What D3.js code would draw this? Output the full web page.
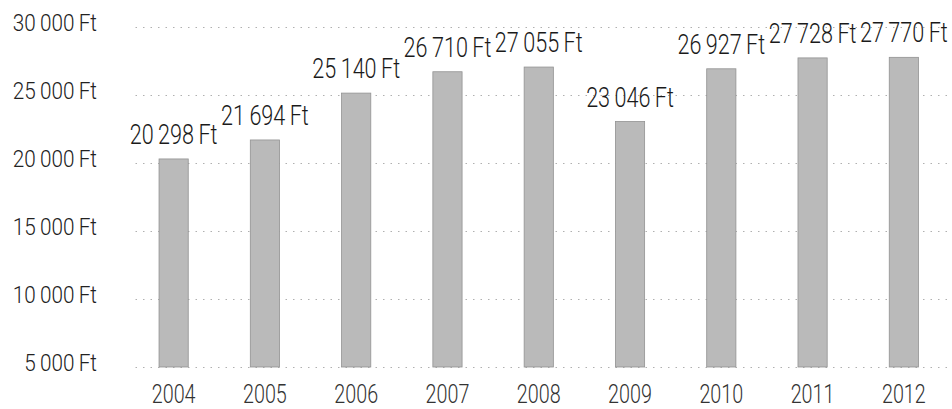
<!DOCTYPE html>
<html>
<head>
<meta charset="utf-8">
<script src="https://cdn.jsdelivr.net/npm/d3@7"></script>
<style>
  html, body { margin: 0; padding: 0; background: #fff; }
  svg { display: block; }
  text { font-family: Roboto, "Liberation Sans", Arial, sans-serif; font-weight: 300; }
</style>
</head>
<body>
<svg id="chart" width="952" height="409"></svg>
<script>
// Yearly amounts in forints
const years = ["2004", "2005", "2006", "2007", "2008", "2009", "2010", "2011", "2012"];
const amounts = [20298, 21694, 25140, 26710, 27055, 23046, 26927, 27728, 27770];
const yTicks = [5000, 10000, 15000, 20000, 25000, 30000];

const svg = d3.select("#chart");

const huf = d3.formatLocale({
  decimal: ",",
  thousands: "\u2009",
  grouping: [3],
  currency: ["", "\u2009Ft"]
}).format("$,d");

const x = d3.scaleBand()
  .domain(years)
  .range([128, 949.5])
  .paddingInner(0.68)
  .paddingOuter(0.34);

const y = d3.scaleLinear()
  .domain([5000, 30000])
  .range([367, 27]);

// Dotted horizontal grid
const grid = svg.append("g")
  .attr("transform", "translate(947,0)")
  .call(d3.axisLeft(y).tickValues(yTicks).tickSize(812).tickFormat(""));
grid.select(".domain").remove();
grid.selectAll(".tick line")
  .attr("stroke", "#b0b0b0")
  .attr("stroke-width", 1)
  .attr("stroke-dasharray", "1.5 6");

// Value axis labels
const yAxis = svg.append("g")
  .attr("transform", "translate(97,0)")
  .call(d3.axisLeft(y).tickValues(yTicks).tickSize(0).tickPadding(0).tickFormat(huf));
yAxis.select(".domain").remove();
yAxis.selectAll(".tick text")
  .attr("x", 0)
  .attr("dy", "0.30em")
  .attr("transform", "translate(0,-3) scale(0.9,1)")
  .attr("font-size", 23)
  .attr("fill", "#222")
  .attr("font-family", null);

// Bars
svg.append("g")
  .selectAll("rect")
  .data(years)
  .join("rect")
  .attr("x", (d) => x(d))
  .attr("width", x.bandwidth())
  .attr("y", (d, i) => y(amounts[i]))
  .attr("height", (d, i) => y(5000) - y(amounts[i]))
  .attr("fill", "#bababa")
  .attr("stroke", "#929292")
  .attr("stroke-width", 0.8);

// Value labels above the bars
svg.append("g")
  .selectAll("text")
  .data(years)
  .join("text")
  .attr("transform", (d, i) =>
    `translate(${x(d) + x.bandwidth() / 2},${y(amounts[i]) - 15}) scale(0.8,1)`)
  .attr("text-anchor", "middle")
  .attr("font-size", 27)
  .attr("fill", "#1a1a1a")
  .text((d, i) => huf(amounts[i]));

// Year labels
const xAxis = svg.append("g")
  .attr("transform", "translate(0,403)")
  .call(d3.axisBottom(x).tickSize(0).tickPadding(0));
xAxis.select(".domain").remove();
xAxis.selectAll(".tick text")
  .attr("y", 0)
  .attr("dy", 0)
  .attr("transform", "scale(0.76,1)")
  .attr("font-size", 26)
  .attr("fill", "#333")
  .attr("font-family", null);
</script>
</body>
</html>
